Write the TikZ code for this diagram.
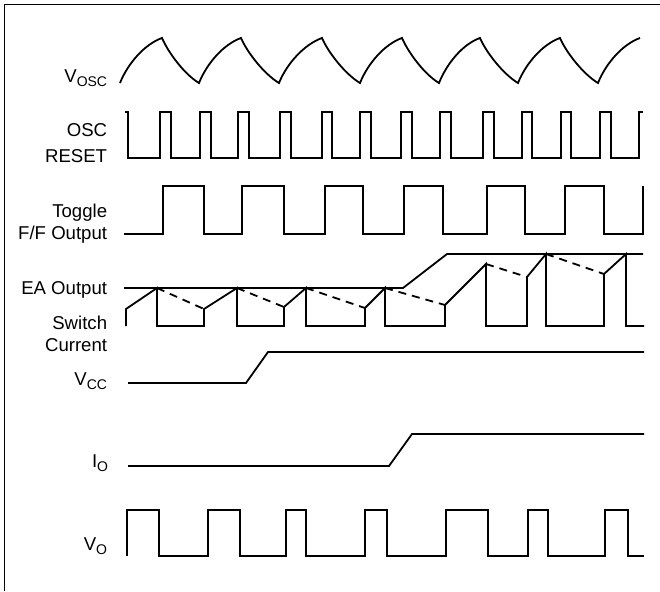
\documentclass[tikz,border=0pt]{standalone}
\usepackage{fontspec}
\setmainfont{Liberation Sans}
\newcommand{\lowsub}[1]{\raisebox{-2pt}{\fontsize{7}{8}\selectfont #1}}
\begin{document}
\begin{tikzpicture}[x=0.5pt,y=-0.5pt,line width=0.9pt,
	lbl/.style={anchor=base east,inner sep=0,font=\fontsize{9.3}{11}\selectfont},
	twolbl/.style={anchor=north east,inner sep=0,align=right,font=\fontsize{9.3}{11}\selectfont}]
			%\draw[help lines,step=20] (0,0) grid (660,591);
			\useasboundingbox (0,0) rectangle (660,591);
			\draw (4.5,591) -- (4.5,4.5) -- (660,4.5);
			% labels
			\node[lbl] (vosc) at (108,82) {V\lowsub{OSC}};
			\node[twolbl] (oscreset) at (108,123) {OSC\\[2pt]RESET};
			\node[twolbl] (toggle) at (108,203) {Toggle\\F/F Output};
			\node[lbl] (eaout) at (108,294) {EA Output};
			\node[twolbl] (swcur) at (108,315) {Switch\\Current};
			\node[lbl] (vcc) at (108,385) {V\lowsub{CC}};
			\node[lbl] (io) at (109,467) {I\lowsub{O}};
			\node[lbl] (vo) at (108,550) {V\lowsub{O}};
			% oscillator
			\draw (120,83) .. controls +(8,-20) and +(-17,6) .. (162,38)
				.. controls +(6,14) and +(-15,-9) .. (199,83) .. controls +(8,-20) and +(-17,6) .. (241,38)
				.. controls +(6,14) and +(-15,-9) .. (279,83) .. controls +(8,-20) and +(-17,6) .. (322,38)
				.. controls +(6,14) and +(-15,-9) .. (360,83) .. controls +(8,-20) and +(-17,6) .. (402,38)
				.. controls +(6,14) and +(-15,-9) .. (439,83) .. controls +(8,-20) and +(-17,6) .. (480,38)
				.. controls +(6,14) and +(-15,-9) .. (518,83) .. controls +(8,-20) and +(-17,6) .. (560,38)
				.. controls +(6,14) and +(-15,-9) .. (598,83) .. controls +(8,-20) and +(-17,6) .. (640,38);
			\draw (125,112) -| (128,158) -| (160,112) -| (171,158) -| (200,112) -| (211,158) -| (238,112)
				-| (249,158) -| (280,112) -| (291,158) -| (322,112) -| (332,158) -| (360,112) -| (371,158)
				-| (401,112) -| (412,158) -| (440,112) -| (451,158) -| (483,112) -| (494,158) -| (522,112)
				-| (532,158) -| (561,112) -| (571,158) -| (600,112) -| (611,158) -| (639,112) -- (643,112);
			\draw (124,234) -| (163,186) -| (204,234) -| (242,186) -| (284,234) -| (325,186) -| (363,234)
				-| (404,186) -| (443,234) -| (487,186) -| (525,234) -| (565,186) -| (604,234) -| (643,186);
			% error amp and switch
			\draw (124,288) -- (403,288) -- (447,254) -- (643,254);
			\draw (126,326) -- (126,309) -- (157,288) -- (157,326) -- (204,326) -- (204,309) -- (237,288)
				-- (237,326) -- (284,326) -- (284,307) -- (306,288) -- (306,326) -- (365,326) -- (365,308)
				-- (385,288) -- (385,326) -- (445,326) -- (445,305) -- (486,264) -- (486,326) -- (527,326)
				-- (527,277) -- (546,254) -- (546,326) -- (604,326) -- (604,274) -- (626,254) -- (626,326) -- (644,326);
			\draw[dash pattern=on 4pt off 3pt] (157,288) -- (204,309) (237,288) -- (284,307) (306,288) -- (365,308)
				(385,288) -- (445,305) (486,264) -- (527,277) (546,254) -- (604,274);
			% supply, load, output
			\draw (128,383) -- (246,383) -- (268,352) -- (644,352);
			\draw (128,466) -- (389,466) -- (412,434) -- (644,434);
			\draw (127,556) |- (159,510) |- (208,556) |- (240,510) |- (286,556) |- (306,510) |- (365,556)
				|- (387,510) |- (446,556) |- (488,510) |- (528,556) |- (548,510) |- (605,556) |- (628,510) |- (644,556);
		\end{tikzpicture}
\end{document}
